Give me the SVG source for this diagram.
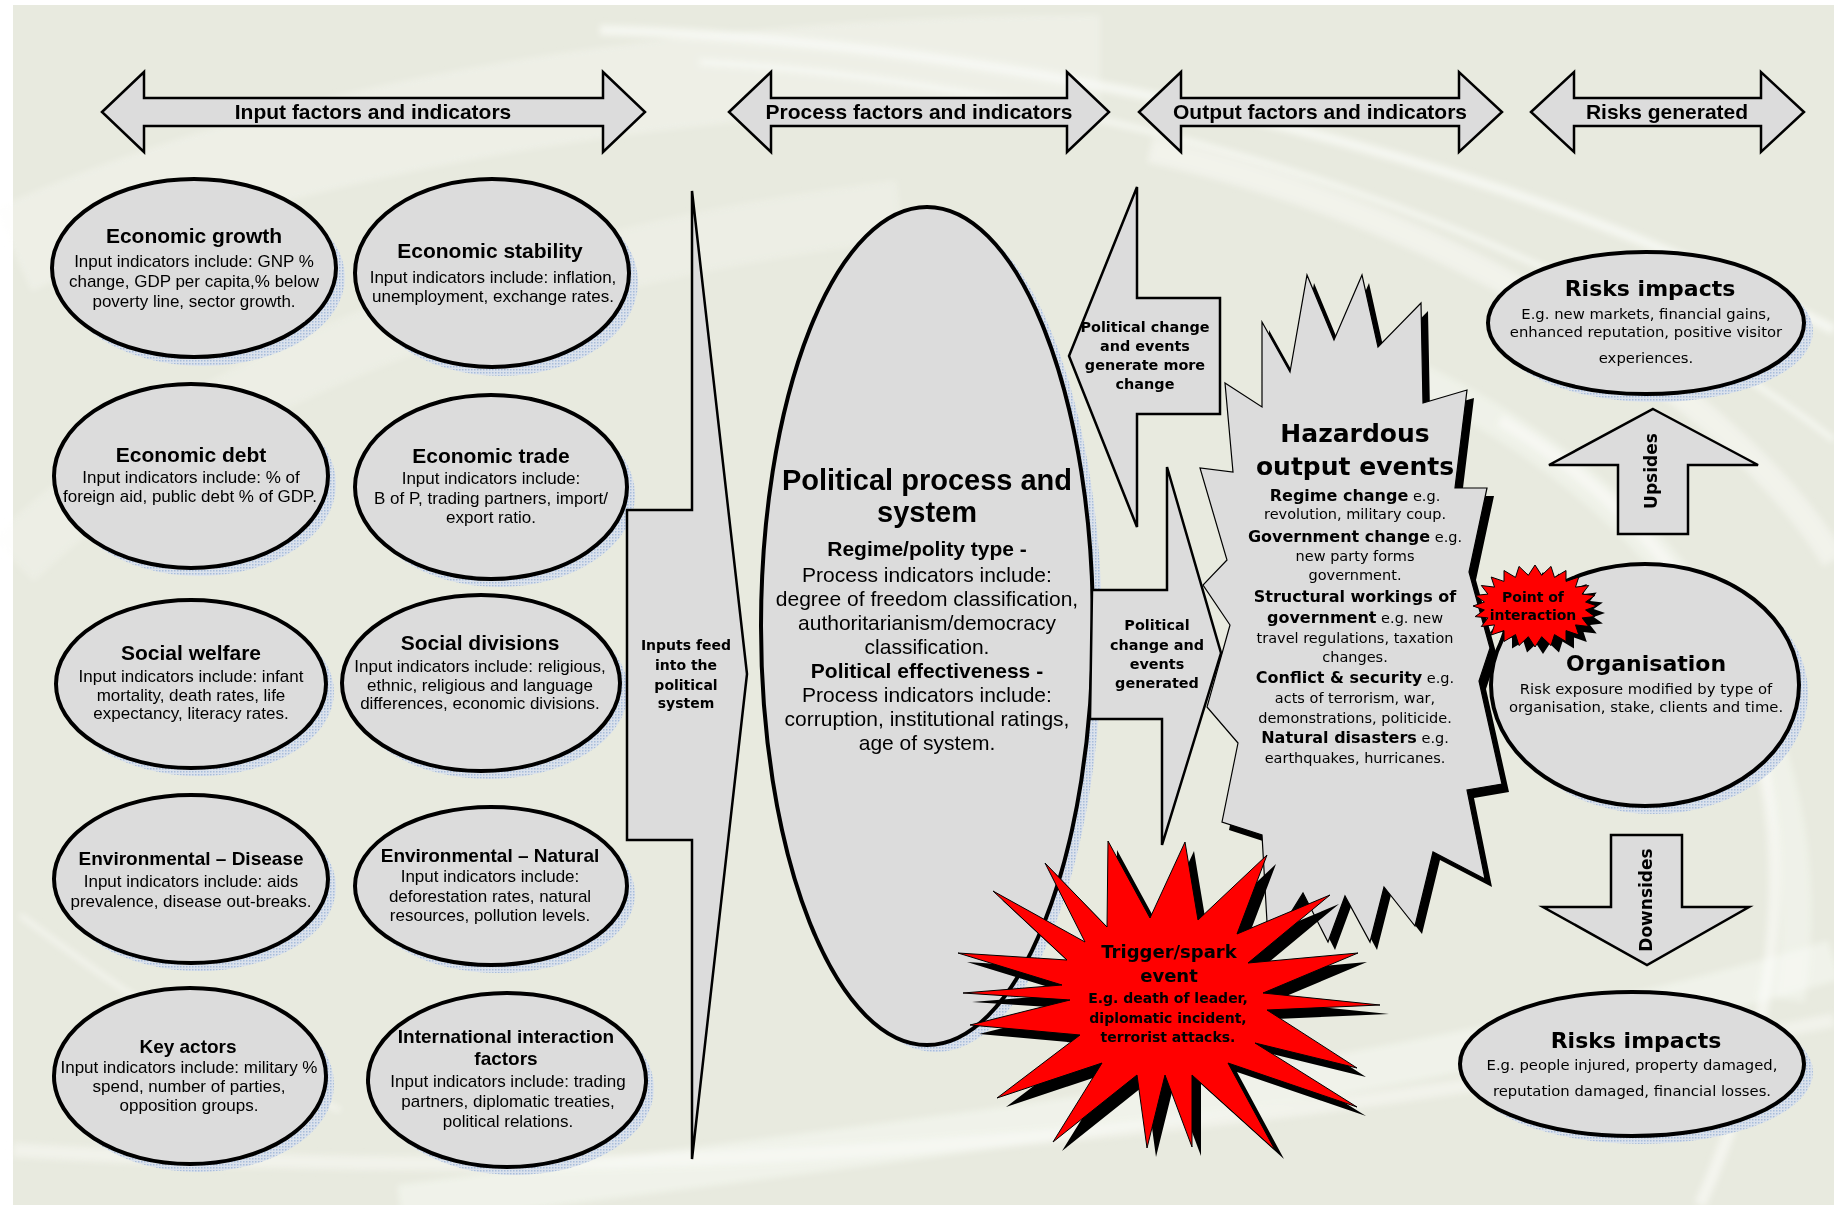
<svg xmlns="http://www.w3.org/2000/svg" width="1834" height="1205" viewBox="0 0 1834 1205">
<defs>
<pattern id="dots" width="3" height="3" patternUnits="userSpaceOnUse"><rect width="3" height="3" fill="#dbe2ec"/><rect width="1.5" height="1.5" fill="#a7bcda"/></pattern>
<filter id="soft" x="-5%" y="-5%" width="110%" height="110%"><feGaussianBlur stdDeviation="3"/></filter>
<style>
.ell{fill:#dcdcdc;stroke:#000;stroke-width:4}
.shd{fill:url(#dots)}
.arr{fill:#dcdcdc;stroke:#000;stroke-width:2.5;stroke-linejoin:miter}
.sw{fill:none;stroke:#fbfcf8}
text{text-anchor:middle;fill:#000}
.a{font-family:"Liberation Sans",Arial,sans-serif}
.ab{font-family:"Liberation Sans",Arial,sans-serif;font-weight:bold}
.h{font-size:21px}
.t21{font-size:21px}
.t19{font-size:19px}
.b17{font-size:17px}
.v{font-family:"DejaVu Sans",Verdana,sans-serif}
.vb{font-family:"DejaVu Sans",Verdana,sans-serif;font-weight:bold}
.blk{fill:#000;stroke:none}
.red{fill:#ff0000;stroke:#000;stroke-width:1}
</style>
</defs>
<rect x="0" y="0" width="1834" height="1205" fill="#ffffff"/>
<rect x="13" y="5" width="1821" height="1200" fill="#e8eadf"/>
<g id="background-swooshes" filter="url(#soft)">
<path class="sw" d="M13,250 C300,120 700,60 1100,60" stroke-width="90" opacity="0.3"/>
<path class="sw" d="M13,560 C200,380 500,260 900,210" stroke-width="60" opacity="0.25"/>
<path class="sw" d="M600,30 C1000,40 1500,150 1834,330" stroke-width="10" opacity="0.7"/>
<path class="sw" d="M700,62 C1100,85 1550,220 1834,440" stroke-width="6" opacity="0.7"/>
<path class="sw" d="M1150,150 C1500,230 1750,420 1834,560" stroke-width="25" opacity="0.5"/>
<path class="sw" d="M1300,330 C1650,450 1834,700 1790,1000" stroke-width="30" opacity="0.4"/>
<path class="sw" d="M1500,420 C1800,600 1834,900 1700,1205" stroke-width="12" opacity="0.6"/>
<path class="sw" d="M400,1205 C900,1140 1400,1090 1834,960" stroke-width="40" opacity="0.45"/>
<path class="sw" d="M13,1150 C500,1180 1100,1170 1834,1020" stroke-width="14" opacity="0.5"/>
<path class="sw" d="M20,915 C120,990 220,1060 340,1110" stroke-width="5" opacity="0.6"/>
</g>

<g id="header-input">
<polygon class="arr" points="102,112 144,72 144,98 603,98 603,72 645,112 603,152 603,126 144,126 144,152"/>
<text class="ab h" x="373" y="119">Input factors and indicators</text>
</g>
<g id="header-process">
<polygon class="arr" points="729,112 771,72 771,98 1067,98 1067,72 1109,112 1067,152 1067,126 771,126 771,152"/>
<text class="ab h" x="919" y="119">Process factors and indicators</text>
</g>
<g id="header-output">
<polygon class="arr" points="1139,112 1181,72 1181,98 1459,98 1459,72 1502,112 1459,152 1459,126 1181,126 1181,152"/>
<text class="ab h" x="1320" y="119">Output factors and indicators</text>
</g>
<g id="header-risks">
<polygon class="arr" points="1531,112 1574,72 1574,98 1761,98 1761,72 1804,112 1761,152 1761,126 1574,126 1574,152"/>
<text class="ab h" x="1667" y="119">Risks generated</text>
</g>

<g id="economic-growth">
<ellipse class="shd" cx="203" cy="277" rx="142" ry="89"/>
<ellipse class="ell" cx="194" cy="268" rx="142" ry="89"/>
<text class="ab t21" x="194" y="243">Economic growth</text>
<text class="a b17" x="194" y="267">Input indicators include: GNP %</text>
<text class="a b17" x="194" y="287">change, GDP per capita,% below</text>
<text class="a b17" x="194" y="307">poverty line, sector growth.</text>
</g>
<g id="economic-stability">
<ellipse class="shd" cx="501" cy="282" rx="137" ry="94"/>
<ellipse class="ell" cx="492" cy="273" rx="137" ry="94"/>
<text class="ab t21" x="490" y="258">Economic stability</text>
<text class="a b17" x="493" y="283">Input indicators include: inflation,</text>
<text class="a b17" x="493" y="302">unemployment, exchange rates.</text>
</g>
<g id="economic-debt">
<ellipse class="shd" cx="199" cy="484" rx="137" ry="92"/>
<ellipse class="ell" cx="191" cy="476" rx="137" ry="92"/>
<text class="ab t21" x="191" y="462">Economic debt</text>
<text class="a b17" x="191" y="483">Input indicators include: % of</text>
<text class="a b17" x="190" y="502">foreign aid, public debt % of GDP.</text>
</g>
<g id="economic-trade">
<ellipse class="shd" cx="499" cy="495" rx="136" ry="92"/>
<ellipse class="ell" cx="491" cy="487" rx="136" ry="92"/>
<text class="ab t21" x="491" y="463">Economic trade</text>
<text class="a b17" x="491" y="484">Input indicators include:</text>
<text class="a b17" x="491" y="504">B of P, trading partners, import/</text>
<text class="a b17" x="491" y="523">export ratio.</text>
</g>
<g id="social-welfare">
<ellipse class="shd" cx="199" cy="692" rx="135" ry="84"/>
<ellipse class="ell" cx="191" cy="684" rx="135" ry="84"/>
<text class="ab t21" x="191" y="660">Social welfare</text>
<text class="a b17" x="191" y="682">Input indicators include: infant</text>
<text class="a b17" x="191" y="701">mortality, death rates, life</text>
<text class="a b17" x="191" y="719">expectancy, literacy rates.</text>
</g>
<g id="social-divisions">
<ellipse class="shd" cx="489" cy="691" rx="139" ry="88"/>
<ellipse class="ell" cx="481" cy="683" rx="139" ry="88"/>
<text class="ab t21" x="480" y="650">Social divisions</text>
<text class="a b17" x="480" y="672">Input indicators include: religious,</text>
<text class="a b17" x="480" y="691">ethnic, religious and language</text>
<text class="a b17" x="480" y="709">differences, economic divisions.</text>
</g>
<g id="environmental-disease">
<ellipse class="shd" cx="199" cy="887" rx="137" ry="84"/>
<ellipse class="ell" cx="191" cy="879" rx="137" ry="84"/>
<text class="ab t19" x="191" y="865">Environmental – Disease</text>
<text class="a b17" x="191" y="887">Input indicators include: aids</text>
<text class="a b17" x="191" y="907">prevalence, disease out-breaks.</text>
</g>
<g id="environmental-natural">
<ellipse class="shd" cx="499" cy="894" rx="136" ry="79"/>
<ellipse class="ell" cx="491" cy="886" rx="136" ry="79"/>
<text class="ab t19" x="490" y="862">Environmental – Natural</text>
<text class="a b17" x="490" y="882">Input indicators include:</text>
<text class="a b17" x="490" y="902">deforestation rates, natural</text>
<text class="a b17" x="490" y="921">resources, pollution levels.</text>
</g>
<g id="key-actors">
<ellipse class="shd" cx="198" cy="1084" rx="136" ry="88"/>
<ellipse class="ell" cx="190" cy="1076" rx="136" ry="88"/>
<text class="ab t19" x="188" y="1053">Key actors</text>
<text class="a b17" x="189" y="1073">Input indicators include: military %</text>
<text class="a b17" x="189" y="1092">spend, number of parties,</text>
<text class="a b17" x="189" y="1111">opposition groups.</text>
</g>
<g id="international-interaction">
<ellipse class="shd" cx="515" cy="1088" rx="139" ry="87"/>
<ellipse class="ell" cx="507" cy="1080" rx="139" ry="87"/>
<text class="ab t19" x="506" y="1043">International interaction</text>
<text class="ab t19" x="506" y="1065">factors</text>
<text class="a b17" x="508" y="1087">Input indicators include: trading</text>
<text class="a b17" x="508" y="1107">partners, diplomatic treaties,</text>
<text class="a b17" x="508" y="1127">political relations.</text>
</g>

<g id="political-process">
<ellipse class="shd" cx="936" cy="633" rx="166" ry="419"/>
<ellipse class="ell" cx="927" cy="626" rx="166" ry="419" stroke-width="4.5"/>
<text class="ab" font-size="29" x="927" y="490">Political process and</text>
<text class="ab" font-size="29" x="927" y="522">system</text>
<text class="ab t21" x="927" y="556">Regime/polity type -</text>
<text class="a t21" x="927" y="582">Process indicators include:</text>
<text class="a t21" x="927" y="606">degree of freedom classification,</text>
<text class="a t21" x="927" y="630">authoritarianism/democracy</text>
<text class="a t21" x="927" y="654">classification.</text>
<text class="ab t21" x="927" y="678">Political effectiveness -</text>
<text class="a t21" x="927" y="702">Process indicators include:</text>
<text class="a t21" x="927" y="726">corruption, institutional ratings,</text>
<text class="a t21" x="927" y="750">age of system.</text>
</g>

<g id="hazardous-output-events">
<polygon class="blk" transform="translate(7,8)" points="1225,383 1262,407 1262,322 1290,372 1307,275 1334,340 1362,275 1378,347 1421,303 1423,403 1467,390 1455,488 1487,488 1469,572 1490,648 1479,681 1502,784 1467,790 1485,879 1433,852 1415,926 1384,887 1370,942 1345,896 1328,942 1303,893 1280,930 1267,922 1262,835 1222,822 1238,743 1207,707 1230,625 1203,585 1227,560 1200,468 1233,472"/>
<polygon fill="#dcdcdc" stroke="#000" stroke-width="1.2" points="1225,383 1262,407 1262,322 1290,372 1307,275 1334,340 1362,275 1378,347 1421,303 1423,403 1467,390 1455,488 1487,488 1469,572 1490,648 1479,681 1502,784 1467,790 1485,879 1433,852 1415,926 1384,887 1370,942 1345,896 1328,942 1303,893 1280,930 1267,922 1262,835 1222,822 1238,743 1207,707 1230,625 1203,585 1227,560 1200,468 1233,472"/>
<text class="vb" font-size="25" x="1355" y="442">Hazardous</text>
<text class="vb" font-size="25" x="1355" y="475">output events</text>
<text class="v" font-size="14.5" x="1355" y="501"><tspan class="vb" font-size="16">Regime change</tspan> e.g.</text>
<text class="v" font-size="14.5" x="1355" y="519">revolution, military coup.</text>
<text class="v" font-size="14.5" x="1355" y="542"><tspan class="vb" font-size="16">Government change</tspan> e.g.</text>
<text class="v" font-size="14.5" x="1355" y="561">new party forms</text>
<text class="v" font-size="14.5" x="1355" y="580">government.</text>
<text class="vb" font-size="16" x="1355" y="602">Structural workings of</text>
<text class="v" font-size="14.5" x="1355" y="623"><tspan class="vb" font-size="16">government</tspan> e.g. new</text>
<text class="v" font-size="14.5" x="1355" y="643">travel regulations, taxation</text>
<text class="v" font-size="14.5" x="1355" y="662">changes.</text>
<text class="v" font-size="14.5" x="1355" y="683"><tspan class="vb" font-size="16">Conflict &amp; security</tspan> e.g.</text>
<text class="v" font-size="14.5" x="1355" y="703">acts of terrorism, war,</text>
<text class="v" font-size="14.5" x="1355" y="723">demonstrations, politicide.</text>
<text class="v" font-size="14.5" x="1355" y="743"><tspan class="vb" font-size="16">Natural disasters</tspan>  e.g.</text>
<text class="v" font-size="14.5" x="1355" y="763">earthquakes, hurricanes.</text>
</g>

<g id="risks-impacts-upside">
<ellipse class="shd" cx="1655" cy="331" rx="158" ry="71"/>
<ellipse class="ell" cx="1646" cy="323" rx="158" ry="71"/>
<text class="vb" font-size="22" x="1650" y="296">Risks impacts</text>
<text class="v" font-size="14.8" x="1646" y="319">E.g. new markets, financial gains,</text>
<text class="v" font-size="14.8" x="1646" y="337">enhanced reputation, positive visitor</text>
<text class="v" font-size="14.8" x="1646" y="363">experiences.</text>
</g>
<g id="organisation">
<ellipse class="shd" cx="1654" cy="693" rx="154" ry="121"/>
<ellipse class="ell" cx="1645" cy="685" rx="154" ry="121"/>
<text class="vb" font-size="22" x="1646" y="671">Organisation</text>
<text class="v" font-size="14.8" x="1646" y="694">Risk exposure modified by type of</text>
<text class="v" font-size="14.8" x="1646" y="712">organisation, stake, clients and time.</text>
</g>
<g id="point-of-interaction">
<polygon class="blk" transform="translate(8,7)" points="1597,606 1585.6,610 1594.9,616.6 1582.1,617.9 1588.7,626.5 1575.5,624.9 1578.8,635 1566,630.6 1566,641.5 1554.5,634.6 1551,645.6 1541.7,636.7 1535,647 1528.3,636.7 1519,645.6 1515.5,634.6 1504,641.5 1504,630.6 1491.2,635 1494.5,624.9 1481.3,626.5 1487.9,617.9 1475.1,616.6 1484.4,610 1473,606 1484.4,602 1475.1,595.4 1487.9,594.1 1481.3,585.5 1494.5,587.1 1491.2,577 1504,581.4 1504,570.5 1515.5,577.4 1519,566.4 1528.3,575.3 1535,565 1541.7,575.3 1551,566.4 1554.5,577.4 1566,570.5 1566,581.4 1578.8,577 1575.5,587.1 1588.7,585.5 1582.1,594.1 1594.9,595.4 1585.6,602"/>
<polygon class="red" points="1597,606 1585.6,610 1594.9,616.6 1582.1,617.9 1588.7,626.5 1575.5,624.9 1578.8,635 1566,630.6 1566,641.5 1554.5,634.6 1551,645.6 1541.7,636.7 1535,647 1528.3,636.7 1519,645.6 1515.5,634.6 1504,641.5 1504,630.6 1491.2,635 1494.5,624.9 1481.3,626.5 1487.9,617.9 1475.1,616.6 1484.4,610 1473,606 1484.4,602 1475.1,595.4 1487.9,594.1 1481.3,585.5 1494.5,587.1 1491.2,577 1504,581.4 1504,570.5 1515.5,577.4 1519,566.4 1528.3,575.3 1535,565 1541.7,575.3 1551,566.4 1554.5,577.4 1566,570.5 1566,581.4 1578.8,577 1575.5,587.1 1588.7,585.5 1582.1,594.1 1594.9,595.4 1585.6,602"/>
<text class="vb" font-size="14" x="1533" y="602">Point of</text>
<text class="vb" font-size="14" x="1533" y="620">interaction</text>
</g>
<g id="risks-impacts-downside">
<ellipse class="shd" cx="1641" cy="1072" rx="172" ry="72"/>
<ellipse class="ell" cx="1632" cy="1064" rx="172" ry="72"/>
<text class="vb" font-size="22" x="1636" y="1048">Risks impacts</text>
<text class="v" font-size="14.8" x="1632" y="1070">E.g. people injured, property damaged,</text>
<text class="v" font-size="14.8" x="1632" y="1096">reputation damaged, financial losses.</text>
</g>

<g id="connectors">
<g id="inputs-feed">
<polygon class="arr" points="692,191 747,674 692,1159 692,840 627,840 627,510 692,510"/>
<text class="vb" font-size="14" x="686" y="650">Inputs feed</text>
<text class="vb" font-size="14" x="686" y="670">into the</text>
<text class="vb" font-size="14" x="686" y="690">political</text>
<text class="vb" font-size="14" x="686" y="708">system</text>
</g>
<g id="change-generates-change">
<polygon class="arr" points="1137,187 1137,298 1220,298 1220,414 1137,414 1137,527 1069,356"/>
<text class="vb" font-size="14.4" x="1145" y="332">Political change</text>
<text class="vb" font-size="14.4" x="1145" y="351">and events</text>
<text class="vb" font-size="14.4" x="1145" y="370">generate more</text>
<text class="vb" font-size="14.4" x="1145" y="389">change</text>
</g>
<g id="change-generated">
<polygon class="arr" points="1167,467 1221,653 1162,845 1162,719 1090,719 1092,590 1167,590"/>
<text class="vb" font-size="14.4" x="1157" y="630">Political</text>
<text class="vb" font-size="14.4" x="1157" y="650">change and</text>
<text class="vb" font-size="14.4" x="1157" y="669">events</text>
<text class="vb" font-size="14.4" x="1157" y="688">generated</text>
</g>
<g id="upsides">
<polygon class="arr" points="1653,409 1758,465 1688,465 1688,534 1618,534 1618,465 1549,465"/>
<text class="vb" font-size="17" transform="translate(1651,471) rotate(-90)" x="0" y="6">Upsides</text>
</g>
<g id="downsides">
<polygon class="arr" points="1611,835 1682,835 1682,907 1749,907 1647,965 1543,907 1611,907"/>
<text class="vb" font-size="17" transform="translate(1646,900) rotate(-90)" x="0" y="6">Downsides</text>
</g>
</g>

<g id="trigger-spark-event">
<polygon class="blk" transform="translate(9,9)" points="1108,841 1150,918 1185,842 1198,920 1267,855 1237,934 1330,895 1248,963 1358,953 1263,993 1380,1005 1267,1010 1357,1068 1255,1043 1357,1107 1228,1063 1275,1150 1192,1075 1192,1147 1165,1075 1147,1148 1137,1075 1053,1142 1102,1063 997,1098 1080,1035 970,1025 1070,1000 963,993 1062,985 958,953 1067,960 993,891 1085,942 1045,863 1107,927"/>
<polygon class="red" points="1108,841 1150,918 1185,842 1198,920 1267,855 1237,934 1330,895 1248,963 1358,953 1263,993 1380,1005 1267,1010 1357,1068 1255,1043 1357,1107 1228,1063 1275,1150 1192,1075 1192,1147 1165,1075 1147,1148 1137,1075 1053,1142 1102,1063 997,1098 1080,1035 970,1025 1070,1000 963,993 1062,985 958,953 1067,960 993,891 1085,942 1045,863 1107,927"/>
<text class="vb" font-size="18" x="1169" y="958" fill="#1a0000">Trigger/spark</text>
<text class="vb" font-size="18" x="1169" y="982" fill="#1a0000">event</text>
<text class="vb" font-size="14" x="1168" y="1003" fill="#1a0000">E.g. death of leader,</text>
<text class="vb" font-size="14" x="1168" y="1023" fill="#1a0000">diplomatic incident,</text>
<text class="vb" font-size="14" x="1168" y="1042" fill="#1a0000">terrorist attacks.</text>
</g>
</svg>
